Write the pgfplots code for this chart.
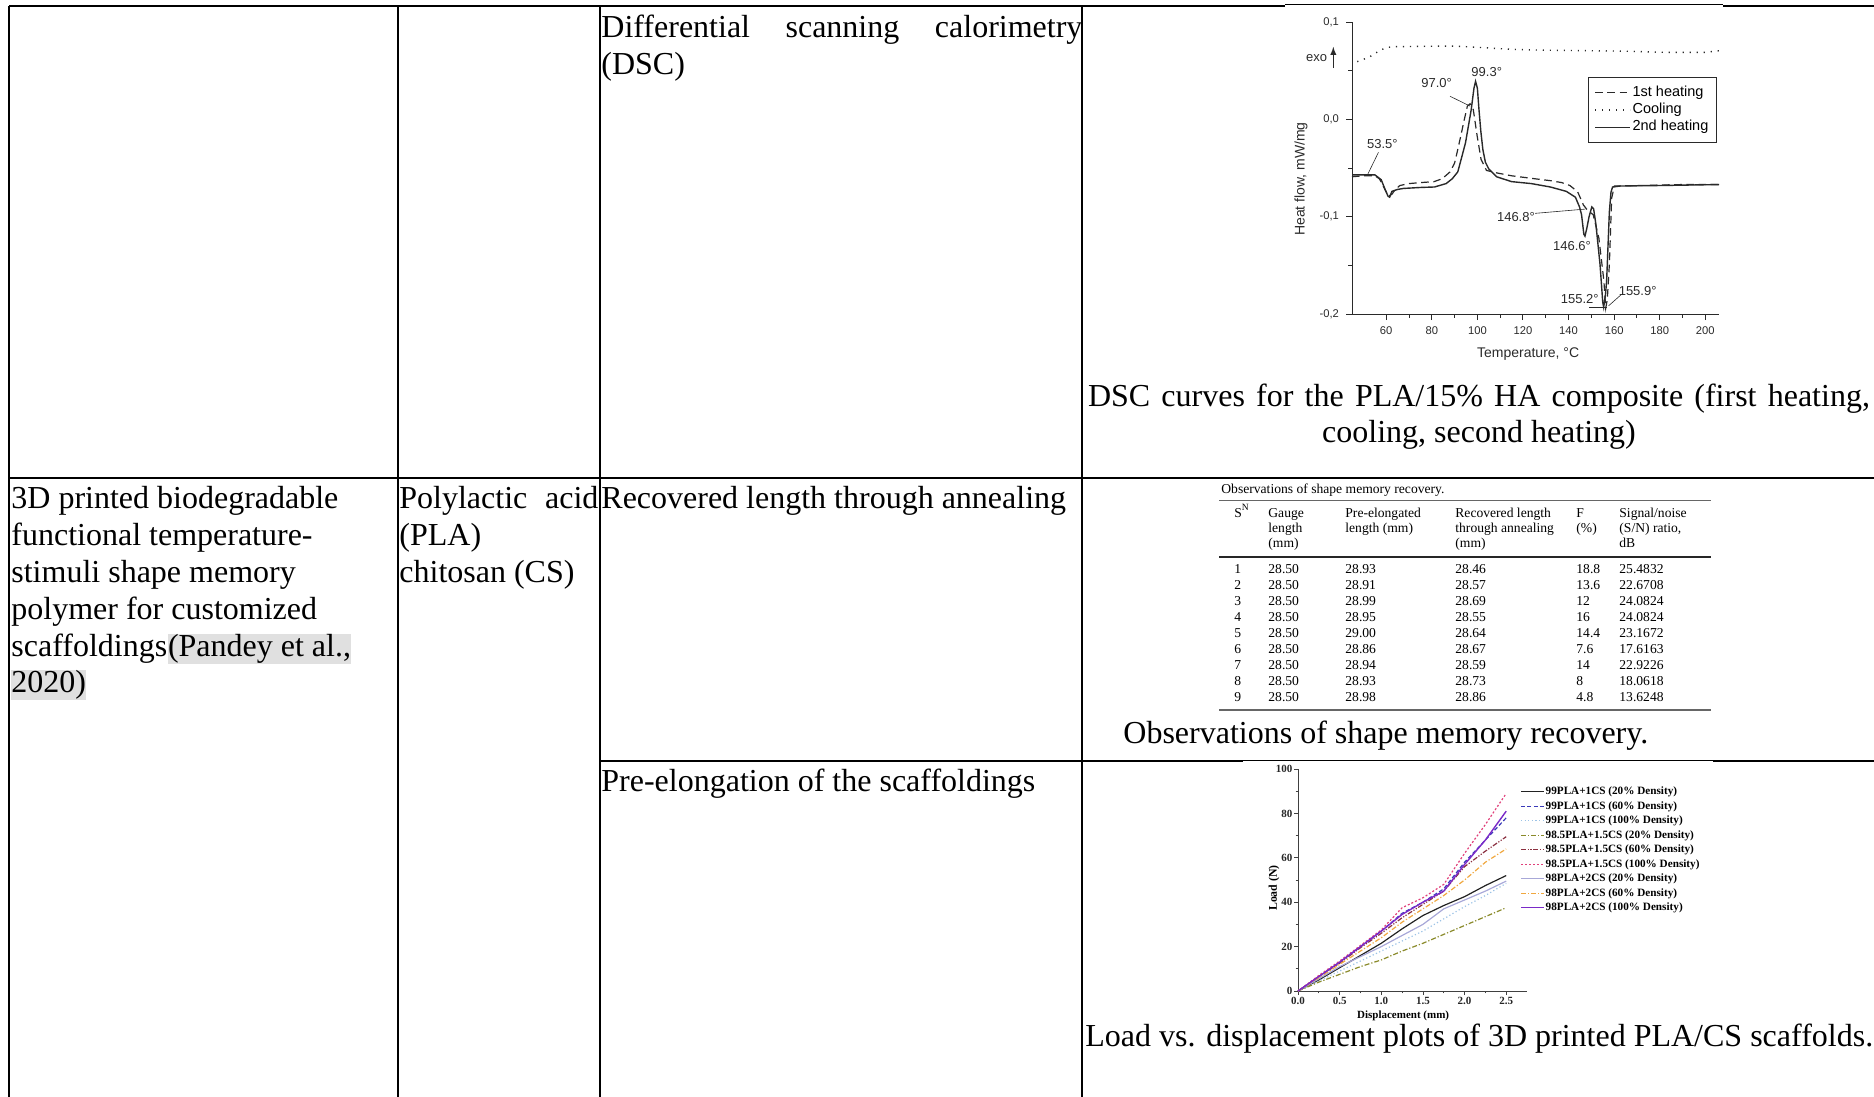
\documentclass[border=0pt]{standalone}
\usepackage{fontspec}
\setmainfont{Liberation Serif}
\newfontfamily\arial{Liberation Sans}
\usepackage{pgfplots}
\pgfplotsset{compat=1.18}
\definecolor{hl}{HTML}{E0E0E0}
\definecolor{dsc}{HTML}{2A2A2A}
\definecolor{ca}{HTML}{222222}
\definecolor{cb}{HTML}{3A3AB8}
\definecolor{cc}{HTML}{9CC3E6}
\definecolor{cd}{HTML}{8A8A2A}
\definecolor{ce}{HTML}{8B3040}
\definecolor{cf}{HTML}{E0407A}
\definecolor{cg}{HTML}{A8A8D8}
\definecolor{ch}{HTML}{F0A840}
\definecolor{ci}{HTML}{7A2AC8}
\newcommand\mt{\fontsize{16}{18.4}\selectfont}
\newcommand\st{\fontsize{6.8}{8}\selectfont}
\begin{document}
\begin{tikzpicture}
\useasboundingbox (0,0) rectangle (937pt,-548.5pt);
\begin{scope}[x=0.5pt,y=-0.5pt]
% table grid
\begin{scope}[line width=1.25pt]
\draw (9,6) -- (1285,6);
\draw (1723,6) -- (1874,6);
\draw (9,6) -- (9,1097);
\draw (398,6) -- (398,1097);
\draw (600,6) -- (600,1097);
\draw (1082,6) -- (1082,1097);
\draw (9,478) -- (1874,478);
\draw (600,761) -- (1243,761);
\draw (1713,761) -- (1874,761);
\end{scope}
\draw[line width=0.5pt] (1285,5) -- (1723,5);
\draw[line width=0.5pt] (1243,760) -- (1713,760);
% main text
\begin{scope}[every node/.style={anchor=base west, inner sep=0pt, font=\mt}]
\node at (601,38) {\makebox[240.5pt][s]{Differential scanning calorimetry}};
\node at (601,75) {(DSC)};
\node at (11,508) {3D printed biodegradable};
\node at (11,545) {functional temperature-};
\node at (11,582) {stimuli shape memory};
\node at (11,619) {polymer for customized};
\node (sc) at (11,656) {scaffoldings};
\node[fill=hl, text height=11pt, text depth=3.8pt] at (sc.base east) {(Pandey et al.,};
\node[fill=hl, text height=11pt, text depth=3.8pt] at (11,692) {2020)};
\node at (399,508) {\makebox[99.5pt][s]{Polylactic acid}};
\node at (399,545) {(PLA)};
\node at (399,582) {chitosan (CS)};
\node at (601,508) {Recovered length through annealing};
\node at (601,791) {Pre-elongation of the scaffoldings};
\node[anchor=base] at (1479,406) {\makebox[391pt][s]{DSC curves for the PLA/15\% HA composite (first heating,}};
\node[anchor=base] at (1479,442) {cooling, second heating)};
\node at (1123,743) {Observations of shape memory recovery.};
\node at (1085,1046) {Load vs. displacement plots of 3D printed PLA/CS scaffolds.};
\end{scope}
% small table (shape memory recovery)
\begin{scope}[every node/.style={anchor=base west, inner sep=0pt, font=\st}]
\node at (1221,493) {Observations of shape memory recovery.};
\draw[black!60, line width=0.4pt] (1219,500) -- (1711,500);
\draw[black!85, line width=0.8pt] (1219,557) -- (1711,557);
\draw[black!60, line width=0.8pt] (1219,710) -- (1711,710);
\node at (1234,517) {S\textsuperscript{N}};
\node at (1268,517) {Gauge};
\node at (1268,532) {length};
\node at (1268,547) {(mm)};
\node at (1345,517) {Pre-elongated};
\node at (1345,532) {length (mm)};
\node at (1455,517) {Recovered length};
\node at (1455,532) {through annealing};
\node at (1455,547) {(mm)};
\node at (1576,517) {F};
\node at (1576,532) {(\%)};
\node at (1619,517) {Signal/noise};
\node at (1619,532) {(S/N) ratio,};
\node at (1619,547) {dB};
\foreach \p/\q/\f/\s [count=\i] in {28.93/28.46/18.8/25.4832, 28.91/28.57/13.6/22.6708, 28.99/28.69/12/24.0824, 28.95/28.55/16/24.0824, 29.00/28.64/14.4/23.1672, 28.86/28.67/7.6/17.6163, 28.94/28.59/14/22.9226, 28.93/28.73/8/18.0618, 28.98/28.86/4.8/13.6248} {
  \pgfmathsetmacro\yy{573+16.1*(\i-1)}
  \node at (1234,\yy) {\i};
  \node at (1268,\yy) {28.50};
  \node at (1345,\yy) {\p};
  \node at (1455,\yy) {\q};
  \node at (1576,\yy) {\f};
  \node at (1619,\yy) {\s};
}
\end{scope}
\end{scope}

% DSC chart
\begin{axis}[
  at={(676pt,-157pt)}, anchor=south west,
  scale only axis, width=183.5pt, height=146pt,
  xmin=45, xmax=206, ymin=-0.2, ymax=0.1,
  axis lines=left, axis line style={-, dsc, line width=0.5pt},
  xtick={60,80,...,200}, minor x tick num=1,
  ytick={-0.2,-0.1,0,0.1}, minor y tick num=1,
  tick align=outside, major tick length=3pt, minor tick length=1.8pt,
  tick style={dsc, line width=0.5pt},
  /pgf/number format/assume math mode=true,
  tick label style={font=\arial\fontsize{5.6}{6}\selectfont, text=dsc},
  yticklabel style={/pgf/number format/.cd, fixed, fixed zerofill, precision=1, use comma},
  xlabel={Temperature, °C}, ylabel={Heat flow, mW/mg},
  label style={font=\arial\fontsize{7}{8}\selectfont, text=dsc},
  xlabel style={at={(axis description cs:0.48,-0.137)}, anchor=center},
  ylabel style={at={(axis description cs:-0.139,0.462)}, anchor=center},
  clip=false,
  legend style={at={(axis description cs:0.643,0.812)}, anchor=north west, draw=dsc, fill=white,
    font=\arial\fontsize{7.25}{8}\selectfont, inner xsep=3pt, inner ysep=3.5pt, row sep=0pt,
    nodes={inner sep=0.9pt, text height=5.2pt, text depth=1.6pt}},
  legend cell align=left,
  legend image code/.code={\draw[#1] (0pt,0pt) -- (17.5pt,0pt);},
]
\addplot[dsc, line width=0.6pt, dash pattern=on 3.8pt off 2.3pt] coordinates {
(45,-0.059) (50,-0.058) (55,-0.058) (57,-0.061) (59,-0.070) (61,-0.079) (62.5,-0.077) (64,-0.072) (66,-0.068) (70,-0.066) (75,-0.065) (81,-0.064) (84.6,-0.061) (88,-0.054) (90,-0.045) (91.4,-0.031) (93,-0.014) (94,-0.003) (95.6,0.0135) (96.8,0.016) (98.2,0.010) (99.9,-0.017) (101.6,-0.041) (104,-0.0525) (108.4,-0.055) (115,-0.058) (125,-0.061) (132,-0.063) (137,-0.065) (140.6,-0.068) (144,-0.0745) (146.5,-0.088) (148.2,-0.093) (150.8,-0.098) (153.3,-0.122) (155.5,-0.166) (156.3,-0.194) (157,-0.185) (157.9,-0.149) (158.9,-0.081) (160.1,-0.0685) (170,-0.068) (190,-0.067) (206,-0.067)};
\addlegendentry{1st heating}
\addplot[dsc, line width=0.7pt, dash pattern=on 0.6pt off 2.9pt] coordinates {
(47.3,0.0593) (52.4,0.0637) (57.5,0.0712) (60,0.0735) (62.5,0.0746) (75,0.075) (89.7,0.0753) (100,0.074) (115,0.0719) (130,0.071) (149,0.0705) (165,0.070) (183,0.0688) (200,0.0688) (206,0.0705)};
\addlegendentry{Cooling}
\addplot[dsc, line width=0.7pt] coordinates {
(45,-0.057) (50,-0.057) (55,-0.057) (57.8,-0.062) (59.5,-0.072) (60.8,-0.079) (61.5,-0.080) (62.5,-0.074) (65,-0.072) (67.6,-0.071) (75,-0.070) (81.2,-0.0695) (86.3,-0.066) (89,-0.061) (91.4,-0.054) (93,-0.040) (94.8,-0.024) (97.3,0.010) (98.5,0.032) (99.2,0.039) (100,0.032) (100.7,0.010) (101.5,-0.012) (102.4,-0.031) (103.5,-0.044) (105,-0.051) (108.4,-0.059) (115,-0.064) (123.6,-0.066) (132,-0.0695) (139,-0.074) (143,-0.080) (144.8,-0.090) (145.7,-0.098) (146.7,-0.118) (147.2,-0.120) (148,-0.112) (149,-0.100) (150.2,-0.090) (151,-0.092) (152,-0.108) (153.8,-0.149) (155.0,-0.188) (155.4,-0.193) (156.2,-0.180) (156.7,-0.166) (157.9,-0.095) (158.6,-0.075) (159.3,-0.0695) (162.7,-0.0685) (180,-0.068) (206,-0.067)};
\addlegendentry{2nd heating}
\begin{scope}[every node/.style={font=\arial\fontsize{6.5}{7}\selectfont, text=dsc, inner sep=0pt}]
\node at (axis cs:104.1,0.049) {99.3°};
\node at (axis cs:82.1,0.0373) {97.0°};
\node at (axis cs:58.3,-0.0254) {53.5°};
\node at (axis cs:116.9,-0.1) {146.8°};
\node at (axis cs:141.5,-0.1305) {146.6°};
\node at (axis cs:144.9,-0.1847) {155.2°};
\node at (axis cs:170.3,-0.1763) {155.9°};
\node at (axis cs:29.5,0.0627) {exo};
\end{scope}
\draw[dsc, line width=0.3pt] (axis cs:88,0.0237) -- (axis cs:96.8,0.0136);
\draw[dsc, line width=0.3pt] (axis cs:56.6,-0.0339) -- (axis cs:52.0,-0.056);
\draw[dsc, line width=0.3pt] (axis cs:125.3,-0.0966) -- (axis cs:147.4,-0.0922);
\draw[dsc, line width=0.3pt] (axis cs:149.1,-0.1932) -- (axis cs:156.7,-0.1932);
\draw[dsc, line width=0.3pt] (axis cs:163,-0.1803) -- (axis cs:157.6,-0.1915);
\draw[dsc, line width=0.4pt, -latex] (axis cs:36.8,0.0525) -- (axis cs:36.8,0.0745);
\end{axis}

% Load vs displacement chart
\begin{axis}[
  at={(649pt,-495.5pt)}, anchor=south west,
  scale only axis, width=114.5pt, height=111pt,
  xmin=0, xmax=2.75, ymin=0, ymax=100,
  axis lines=left, axis line style={-, black!75, line width=0.5pt},
  xtick={0,0.5,1,1.5,2,2.5}, minor x tick num=1,
  ytick={0,20,40,60,80,100}, minor y tick num=1,
  tick align=outside, major tick length=2pt, minor tick length=1.2pt,
  tick style={black!75, line width=0.4pt},
  /pgf/number format/assume math mode=true,
  tick label style={font=\bfseries\fontsize{5.5}{6}\selectfont, text=black!85},
  yticklabel style={inner sep=0.6pt},
  xticklabel style={inner sep=1pt, /pgf/number format/.cd, fixed, fixed zerofill, precision=1},
  xlabel={Displacement (mm)}, ylabel={Load (N)},
  xlabel style={font=\bfseries\fontsize{5.5}{6}\selectfont, at={(axis description cs:0.459,-0.11)}, anchor=center},
  ylabel style={font=\bfseries\fontsize{5.9}{7}\selectfont, at={(axis description cs:-0.105,0.464)}, anchor=center},
  clip=false,
  legend style={at={(axis description cs:0.969,0.928)}, anchor=north west, draw=none, fill=none,
    font=\bfseries\fontsize{5.6}{6}\selectfont, inner sep=0pt, row sep=0.85pt,
    nodes={inner sep=0.5pt, text height=4.2pt, text depth=1.2pt}},
  legend cell align=left,
  legend image code/.code={\draw[#1] (0pt,0pt) -- (11.5pt,0pt);},
]
\addplot[ca, line width=0.6pt] coordinates {(0,0) (0.25,5) (0.5,10.5) (0.75,16) (1,21.5) (1.25,28) (1.5,34) (1.75,38.5) (2,42.5) (2.25,47.5) (2.5,52)};
\addlegendentry{99PLA+1CS (20\% Density)}
\addplot[cb, line width=0.6pt, dash pattern=on 2pt off 1.2pt] coordinates {(0,0) (0.25,6.5) (0.5,13) (0.75,20) (1,27) (1.25,35) (1.5,40) (1.75,46) (2,58) (2.25,68) (2.5,78)};
\addlegendentry{99PLA+1CS (60\% Density)}
\addplot[cc, line width=0.6pt, dash pattern=on 0.6pt off 1.2pt] coordinates {(0,0) (0.25,4.5) (0.5,9) (0.75,13.5) (1,18) (1.25,22.5) (1.5,27) (1.75,32.5) (2,38) (2.25,43) (2.5,48.5)};
\addlegendentry{99PLA+1CS (100\% Density)}
\addplot[cd, line width=0.6pt, dash pattern=on 2.5pt off 1pt on 0.6pt off 1pt] coordinates {(0,0) (0.25,4) (0.5,7.5) (0.75,11) (1,14) (1.25,18) (1.5,21.5) (1.75,25.5) (2,29.5) (2.25,33.5) (2.5,37.5)};
\addlegendentry{98.5PLA+1.5CS (20\% Density)}
\addplot[ce, line width=0.6pt, dash pattern=on 2.5pt off 0.8pt on 0.6pt off 0.8pt on 0.6pt off 0.8pt] coordinates {(0,0) (0.25,6.5) (0.5,12.5) (0.75,19.5) (1,26) (1.25,33) (1.5,39) (1.75,45) (2,56) (2.25,63) (2.5,69.5)};
\addlegendentry{98.5PLA+1.5CS (60\% Density)}
\addplot[cf, line width=0.6pt, dash pattern=on 1pt off 1pt] coordinates {(0,0) (0.25,7) (0.5,13.5) (0.75,20.5) (1,27.5) (1.25,37.5) (1.5,42) (1.75,48) (2,62) (2.25,75) (2.5,89)};
\addlegendentry{98.5PLA+1.5CS (100\% Density)}
\addplot[cg, line width=0.6pt] coordinates {(0,0) (0.25,5.5) (0.5,11) (0.75,15.5) (1,20) (1.25,25) (1.5,30) (1.75,37) (2,41) (2.25,45) (2.5,49.5)};
\addlegendentry{98PLA+2CS (20\% Density)}
\addplot[ch, line width=0.6pt, dash pattern=on 2.5pt off 1pt on 0.6pt off 1pt] coordinates {(0,0) (0.25,6) (0.5,12) (0.75,18) (1,24) (1.25,31) (1.5,37) (1.75,43) (2,50) (2.25,58) (2.5,64)};
\addlegendentry{98PLA+2CS (60\% Density)}
\addplot[ci, line width=0.7pt] coordinates {(0,0) (0.25,6.5) (0.5,13) (0.75,20) (1,27) (1.25,34.5) (1.5,40) (1.75,45) (2,57) (2.25,68) (2.5,81)};
\addlegendentry{98PLA+2CS (100\% Density)}
\end{axis}
\end{tikzpicture}
\end{document}
